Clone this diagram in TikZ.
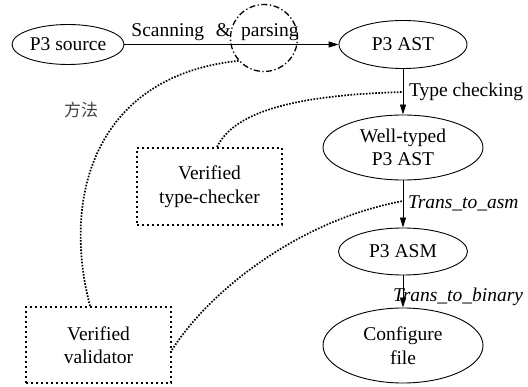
\documentclass[tikz,border=0pt]{standalone}
\usepackage{fontspec}
\setmainfont{Liberation Serif}
\newfontfamily\cjk{Noto Sans CJK SC}
\usetikzlibrary{shapes.geometric,arrows.meta}
\begin{document}
\begin{tikzpicture}[x=1pt,y=-1pt,
  every node/.style={font=\fontsize{19.5}{23.5}\selectfont},
  oval/.style={draw, ellipse, line width=0.9pt, inner sep=0pt, align=center},
  vbox/.style={draw, line width=1.9pt, dash pattern=on 1.9pt off 3.1pt, inner sep=0pt, align=center},
  flow/.style={-{Triangle[length=10pt,width=6pt]}, line width=0.9pt},
  link/.style={line width=1.7pt, dash pattern=on 1.6pt off 1.5pt},
  lbl/.style={anchor=west},
  ilbl/.style={anchor=west, font=\fontsize{19.5}{23.5}\selectfont\itshape},
]
\useasboundingbox (0,0) rectangle (528,387);

% main nodes
\node[oval, minimum width=112pt, minimum height=40pt] (src) at (68,44.5) {P3 source};
\node[oval, minimum width=128pt, minimum height=48pt] (ast) at (403,44.5) {P3 AST};
\node[oval, minimum width=160pt, minimum height=65pt] (wt) at (403,147.5) {Well-typed\\P3 AST};
\node[oval, minimum width=129pt, minimum height=47pt] (asm) at (403,251.5) {P3 ASM};
\node[oval, minimum width=160pt, minimum height=75pt] (cfg) at (403,345.5) {Configure\\file};

% verification boxes
\node[vbox, minimum width=145pt, minimum height=77pt] (tcb) at (209.5,186.5) {Verified\\type-checker};
\node[vbox, minimum width=145pt, minimum height=76pt] (val) at (98.5,345) {Verified\\validator};

% highlight circle
\node[draw, circle, minimum size=67pt, inner sep=0pt, line width=1.3pt,
      dash pattern=on 6pt off 2.5pt on 1.3pt off 2.5pt] (hl) at (264,38) {};

% flow edges
\draw[flow] (src) -- (ast);
\draw[flow] (ast) -- (wt);
\draw[flow] (wt) -- (asm);
\draw[flow] (asm) -- (cfg);

% edge labels
\node (scan) at (215,32) {Scanning\hspace{12pt}\&\hspace{10pt}parsing};
\node[lbl] (tcl) at (405.5,92) {Type checking};
\node[ilbl] (tal) at (404.5,203) {Trans\_to\_asm};
\node[ilbl] (tbl) at (389.5,297) {Trans\_to\_binary};

\coordinate (tc) at (403,92);
\coordinate (ta) at (403,201);

% dotted links
\draw[link] (hl.222) .. controls (100,75) and (60,190) .. ([xshift=-8.5pt]val.north);
\draw[link] ([xshift=7.5pt]tcb.north) .. controls (235,110) and (300,95) .. (tc);
\draw[link] ([yshift=-5pt]val.east) .. controls (210,290) and (300,220) .. (ta);

% chinese text
\node[font=\cjk\fontsize{17}{20}\selectfont, text=black!75] (fa) at (81,110) {方法};
\end{tikzpicture}
\end{document}
